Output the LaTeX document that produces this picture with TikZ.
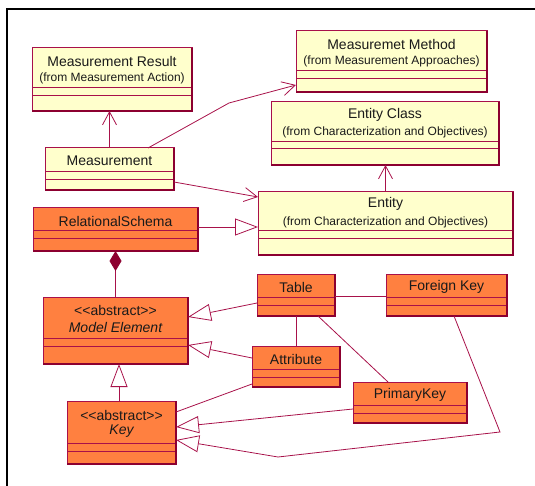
\documentclass[tikz,border=0pt]{standalone}
\usepackage{fontspec}
\setmainfont{Liberation Sans}
\usetikzlibrary{arrows.meta}
\definecolor{yel}{HTML}{FFFFCC}
\definecolor{org}{HTML}{FF8040}
\definecolor{bord}{HTML}{A8104A}
\definecolor{dbord}{HTML}{8C0030}
\definecolor{lnk}{HTML}{A8124A}
\definecolor{txt}{HTML}{1A1A1A}
\tikzset{
  box/.style={draw=bord, line width=1pt, inner sep=0pt, outer sep=0pt, anchor=north west},
  sep/.style={draw=bord, line width=1pt},
  ttl/.style={font=\fontsize{14}{16}\selectfont, text=txt, inner sep=0pt},
  sub/.style={font=\fontsize{12}{14}\selectfont, text=txt, inner sep=0pt},
  link/.style={draw=lnk, line width=0.8pt},
  dep/.style={link, -{Straight Barb[length=13pt,width=14pt,line width=0.8pt]}},
  gen/.style={link, -{Triangle[open,length=23pt,width=17pt,line width=0.8pt]}},
  comp/.style={link, {Diamond[length=20pt,width=12pt,fill=dbord,color=dbord]}-},
}
\newcommand{\umlclass}[8]{%
  \node[box, fill=#8, minimum width=#4pt, minimum height=#5pt] (#1) at (#2,#3) {};
  \draw[sep] ([yshift=-#6pt]#1.north west) -- ([yshift=-#6pt]#1.north east);
  \draw[sep] ([yshift=-#7pt]#1.north west) -- ([yshift=-#7pt]#1.north east);
  \draw[draw=dbord, line width=1.4pt] (#1.south west) -- (#1.south east) -- (#1.north east);
}
\newcommand{\stereo}{<\kern0pt<abstract>\kern0pt>}
\begin{document}
\begin{tikzpicture}[x=1pt,y=-1pt]
\useasboundingbox (0,0) rectangle (535,486);
\draw[black, line width=2.5pt] (7,492) -- (7,9) -- (540,9);

% classes: name, x, y, w, h, sep1 offset, sep2 offset, fill
\umlclass{mr}{32}{48}{160}{63}{40}{48}{yel}
\node[ttl] (mrt) at (112,61) {Measurement Result};
\node[sub] (mrs) at (112,78) {(from Measurement Action)};

\umlclass{mm}{296}{31}{191}{61}{40}{48}{yel}
\node[ttl] (mmt) at (391.5,44) {Measuremet Method};
\node[sub] (mms) at (391.5,61) {(from Measurement Approaches)};

\umlclass{ec}{271}{102}{228}{63}{40}{47}{yel}
\node[ttl] (ect) at (385,115) {Entity Class};
\node[sub] (ecs) at (385,132) {(from Characterization and Objectives)};

\umlclass{meas}{45}{148}{129}{42}{24}{32}{yel}
\node[ttl] (meast) at (109.5,161) {Measurement};

\umlclass{ent}{258}{192}{255}{63}{39}{47}{yel}
\node[ttl] (entt) at (385.5,204) {Entity};
\node[sub] (ents) at (385.5,222) {(from Characterization and Objectives)};

\umlclass{rs}{33}{208}{165}{43}{23}{31}{org}
\node[ttl] (rst) at (115.5,221) {RelationalSchema};

\umlclass{me}{43}{297}{145}{67}{41}{49}{org}
\node[ttl] (mest) at (115.5,310) {\stereo};
\node[ttl] (met) at (115.5,327) {\itshape Model Element};

\umlclass{tab}{257}{274}{78}{42}{23}{31}{org}
\node[ttl] (tabt) at (296,287) {Table};

\umlclass{fk}{386}{274}{121}{42}{23}{31}{org}
\node[ttl] (fkt) at (446.5,287) {Foreign Key};

\umlclass{att}{252}{346}{88}{41}{23}{31}{org}
\node[ttl] (attt) at (296,359) {Attribute};

\umlclass{pk}{353}{382}{114}{41}{23}{31}{org}
\node[ttl] (pkt) at (410,395) {PrimaryKey};

\umlclass{key}{67}{401}{109}{63}{42}{50}{org}
\node[ttl] (keyst) at (121.5,415) {\stereo};
\node[ttl] (keyt) at (121.5,431) {\itshape Key};

% connectors
\draw[dep] (meas.north) -- (meas.north |- mr.south);
\coordinate (bend1) at (229,103);
\draw[dep] ([xshift=38.5pt]meas.north) -- (bend1) -- ([yshift=7pt]mm.south west);
\draw[dep] ([yshift=-13pt]meas.east) -- ([yshift=-5pt]ent.north west);
\draw[dep] (ent.north) -- (ent.north |- ec.south);
\draw[gen] ([yshift=2.5pt]rs.east) -- ([yshift=2.5pt]rs.east -| ent.west);
\draw[comp] (rs.south) -- (rs.south |- me.north);
\draw[gen] ([yshift=-8pt]tab.west) -- ([yshift=13.5pt]me.east);
\draw[link] ([yshift=-1pt]tab.east) -- ([yshift=-1pt]tab.east -| fk.west);
\draw[link] (tab.south) -- (tab.south |- att.north);
\draw[link] ([xshift=22pt]tab.south) -- ([xshift=-22pt]pk.north);
\draw[gen] ([yshift=8.5pt]att.west) -- ([yshift=-14.5pt]me.east);
\draw[link] ([yshift=-17.5pt]att.west) -- ([yshift=20.5pt]key.east);
\draw[gen] ([yshift=-6.5pt]pk.west) -- ([yshift=5.5pt]key.east);
\coordinate (bend2) at (500,432);
\coordinate (bend3) at (278,457);
\draw[gen] ([xshift=7.5pt]fk.south) -- (bend2) -- (bend3) -- ([yshift=-7.5pt]key.east);
\draw[gen] ([xshift=-2.5pt]key.north) -- ([xshift=-2.5pt]key.north |- me.south);
\end{tikzpicture}
\end{document}
